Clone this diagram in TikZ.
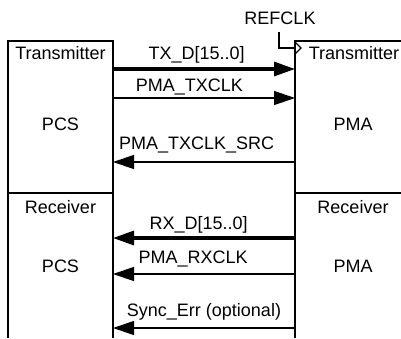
\documentclass[tikz,border=0pt]{standalone}
\usepackage{fontspec}
\setmainfont{Liberation Sans}
\usetikzlibrary{arrows.meta}

\begin{document}
\begin{tikzpicture}[x=0.5pt, y=-0.5pt,
  font=\fontsize{9}{11}\selectfont, >={Triangle[length=10.5pt, width=7pt]},
  frame/.style={line width=0.6pt},
  sig/.style={->, line width=0.6pt},
  bus/.style={->, line width=1.6pt},
  lbl/.style={anchor=base, inner sep=0pt},
  txt/.style={inner sep=0pt}]
  \useasboundingbox (0,0) rectangle (401,338);
  % PCS and PMA blocks
  \draw[frame] (8,338) -- (8,41) -- (113,41) -- (113,338);
  \draw[frame] (8,193) -- (113,193);
  \draw[frame] (295,338) -- (295,41) -- (401,41);
  \draw[frame] (295,193) -- (401,193);
  \node[txt] (pcs-tx) at (60.5,53) {Transmitter};
  \node[txt] (pcs-tx-name) at (60.5,124) {PCS};
  \node[txt] (pcs-rx) at (60.5,207) {Receiver};
  \node[txt] (pcs-rx-name) at (60.5,266) {PCS};
  \node[txt] (pma-tx) at (354,53) {Transmitter};
  \node[txt] (pma-tx-name) at (353,124) {PMA};
  \node[txt] (pma-rx) at (353,207) {Receiver};
  \node[txt] (pma-rx-name) at (353,266) {PMA};
  % ports
  \foreach \n/\y in {txd/69, txclk/98, txsrc/162, rxd/238, rxclk/274, sync/328} {
    \coordinate (pcs-\n) at (113,\y);
    \coordinate (pma-\n) at (295,\y);
  }
  % reference clock
  \node[txt, inner sep=3.5pt] (refclk) at (280,18) {REFCLK};
  \coordinate (clk-in) at (295,48);
  \draw[frame] ([xshift=-0.5pt]refclk.south) |- (clk-in);
  \draw[frame] (295,42) -- (301,48) -- (295,54);
  % signals
  \draw[bus] (pcs-txd) -- node[lbl, pos=0.46, yshift=4.75pt] (l-txd) {TX\_D[15..0]} (pma-txd);
  \draw[sig] (pcs-txclk) -- node[lbl, pos=0.42, yshift=3.25pt] (l-txclk) {PMA\_TXCLK} (pma-txclk);
  \draw[sig] (pma-txsrc) -- node[lbl, pos=0.54, yshift=6.25pt] (l-txsrc) {PMA\_TXCLK\_SRC} (pcs-txsrc);
  \draw[bus] (pma-rxd) -- node[lbl, pos=0.53, yshift=4.25pt] (l-rxd) {RX\_D[15..0]} (pcs-rxd);
  \draw[sig] (pma-rxclk) -- node[lbl, pos=0.56, yshift=5.25pt] (l-rxclk) {PMA\_RXCLK} (pcs-rxclk);
  \draw[sig] (pma-sync) -- node[lbl, pos=0.50, yshift=5.75pt] (l-sync) {Sync\_Err (optional)} (pcs-sync);
\end{tikzpicture}
\end{document}
